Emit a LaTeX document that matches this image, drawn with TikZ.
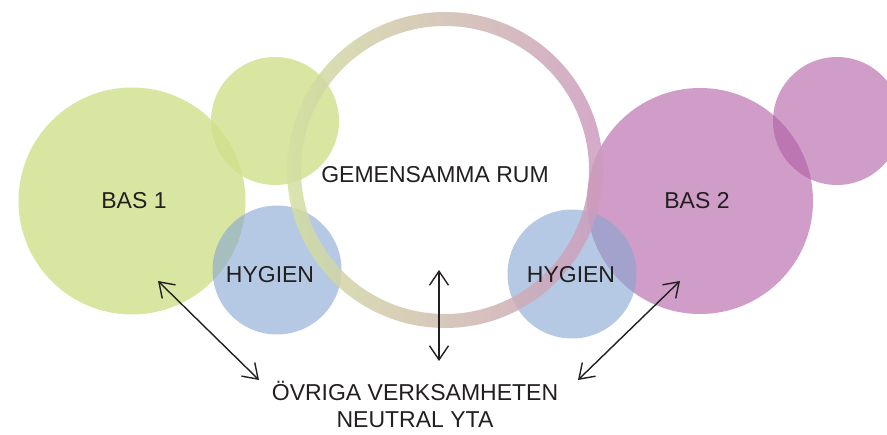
\documentclass[tikz,border=0pt]{standalone}
\usepackage{fontspec}
\setmainfont{Liberation Sans}
\usepackage{tikz}
\usetikzlibrary{arrows.meta}
\definecolor{basgreen}{RGB}{208,224,139}
\definecolor{baspurple}{RGB}{175,92,163}
\definecolor{basblue}{RGB}{132,165,210}
\definecolor{ringgreen}{RGB}{211,224,161}
\definecolor{ringpink}{RGB}{204,155,190}
\definecolor{textgray}{RGB}{35,31,32}

\begin{document}
\begin{tikzpicture}[x=1pt, y=-1pt, >={Straight Barb[length=14pt,width=19pt]},
        every circle node/.append style={draw=none, inner sep=0pt},
        pil/.style={<->, line width=1.4pt, color=textgray}]
      \tikzstyle{word} = [font=\fontsize{23}{27}\selectfont, color=textgray]
      \tikzstyle{gron} = [circle, fill=basgreen, fill opacity=0.8]
      \tikzstyle{lila} = [circle, fill=baspurple, fill opacity=0.6]
      \tikzstyle{bla} = [circle, fill=basblue, fill opacity=0.6]
      \useasboundingbox (0,0) rectangle (887,435);
      % circles
      \node (BAS1) [gron, minimum size=227pt] at (132,201) {};
      \node (GRON) [gron, minimum size=128pt] at (275,121) {};
      \node (BAS2) [lila, minimum size=226pt] at (700,201) {};
      \node (LILA) [lila, minimum size=128pt] at (837,121) {};
      \node (HYG1) [bla, minimum size=129pt] at (277,270) {};
      \node (HYG2) [bla, minimum size=129pt] at (572,274) {};
      % ring
      \coordinate (RUM) at (445,170);
      \shade[left color=ringgreen, right color=ringpink, opacity=0.85, even odd rule]
        (RUM) circle [radius=158pt] (RUM) circle [radius=144pt];
      % texts
      \node (BAS1T) [word] at (134,201) {BAS 1};
      \node (BAS2T) [word] at (697,201) {BAS 2};
      \node (HYG1T) [word] at (270,275) {HYGIEN};
      \node (HYG2T) [word] at (571,275) {HYGIEN};
      \node (RUMT) [word] at (435,175) {GEMENSAMMA RUM};
      \node (OVRIGA) [word, align=center] at (415,404) {ÖVRIGA VERKSAMHETEN\\NEUTRAL YTA};
      % arrows
      \coordinate (P1) at (158,281);
      \coordinate (Q1) at (259,380);
      \coordinate (P2) at (439,270);
      \coordinate (Q2) at (439,361);
      \coordinate (P3) at (680,281);
      \coordinate (Q3) at (578,380);
      \draw[pil] (P1) -- (Q1);
      \draw[pil] (P2) -- (Q2);
      \draw[pil] (P3) -- (Q3);
    \end{tikzpicture}
\end{document}
